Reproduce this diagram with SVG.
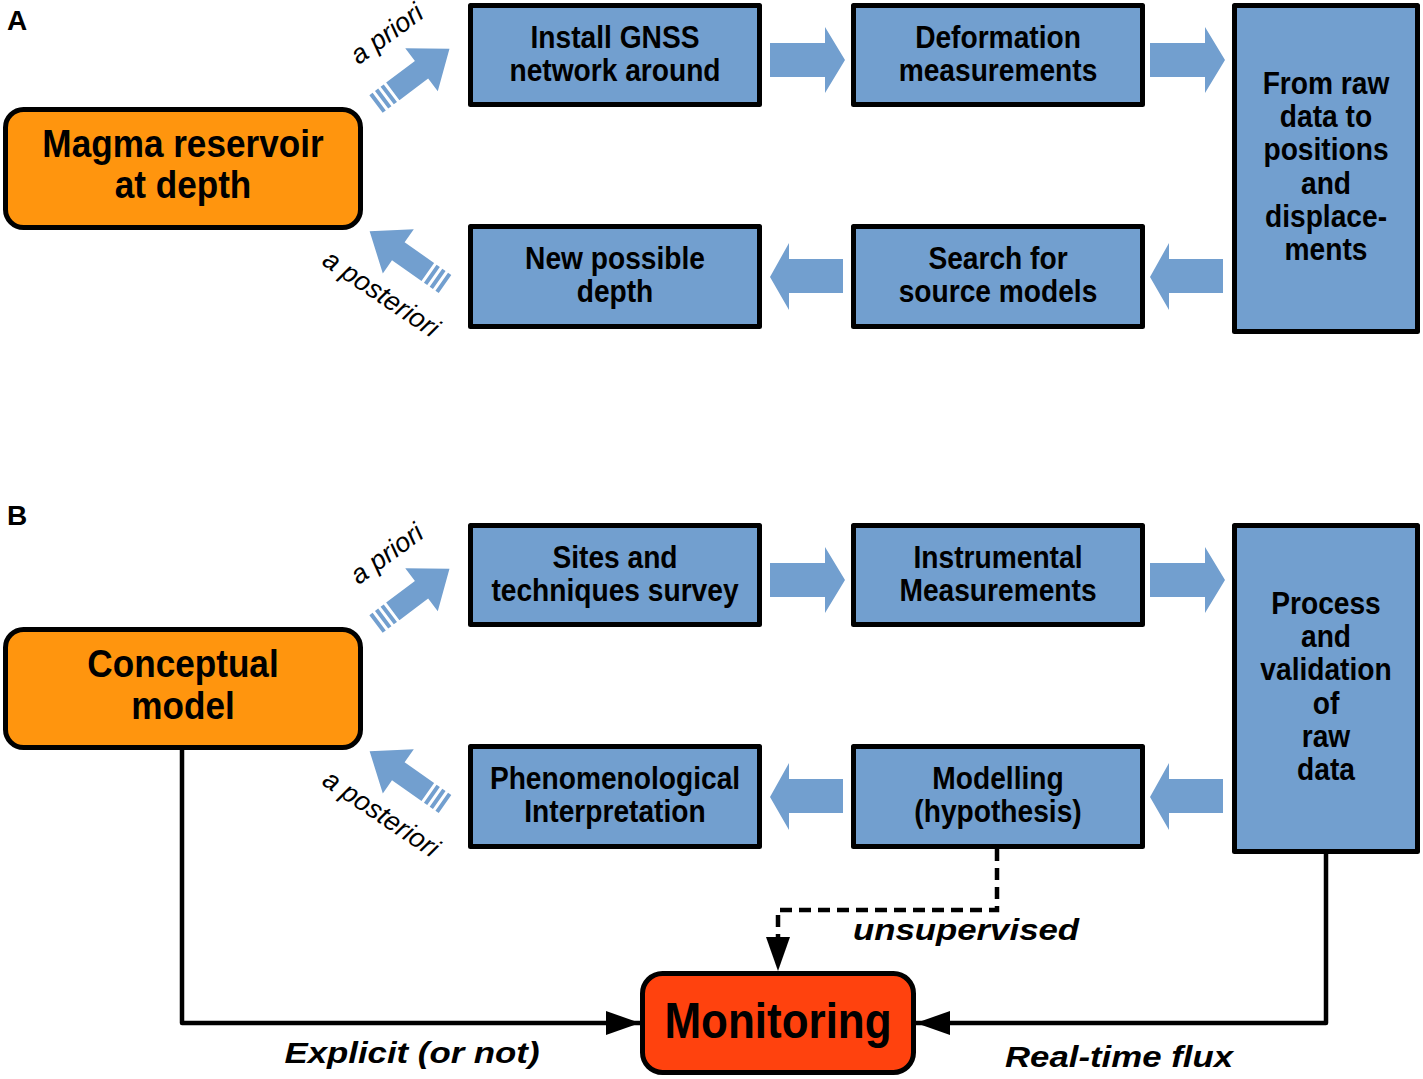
<svg xmlns="http://www.w3.org/2000/svg" xmlns:xlink="http://www.w3.org/1999/xlink" width="1423" height="1079" viewBox="0 0 1423 1079">
<style>
  .bg{fill:#ffffff}
  .box{fill:#729fcf;stroke:#000;stroke-width:5;stroke-linejoin:round}
  .obox{fill:#ff950e;stroke:#000;stroke-width:5}
  .mbox{fill:#ff420e;stroke:#000;stroke-width:5}
  .barrow{fill:#729fcf}
  .t{font-family:"Liberation Sans",Arial,sans-serif;font-weight:bold;fill:#000;text-anchor:middle}
  .bx{font-size:32px}
  .ox{font-size:38px}
  .mx{font-size:50px}
  .lbl{font-family:"Liberation Sans",Arial,sans-serif;font-weight:bold;font-style:italic;font-size:30px;fill:#000;text-anchor:middle}
  .ap{font-family:"Liberation Sans",Arial,sans-serif;font-style:italic;font-size:27px;fill:#000;text-anchor:middle}
  .pl{font-family:"Liberation Sans",Arial,sans-serif;font-weight:bold;font-size:28px;fill:#000}
  .conn{fill:none;stroke:#000;stroke-width:4.5;stroke-linejoin:round}
  .dash{fill:none;stroke:#000;stroke-width:4.5;stroke-dasharray:12 7}
</style>
<defs>
  <path id="diag" d="M0,-11 h4 v22 h-4 z M7,-11 h4 v22 h-4 z M14,-11 h4 v22 h-4 z M21,-11 H57 V-27 L92,0 L57,27 V11 H21 z"/>
  <path id="rarr" d="M0,-17 H55 V-33 L75,0 L55,33 V17 H0 z"/>
  <path id="larr" d="M0,0 L19,-34 V-18 H73 V16 H19 V33 z"/>
  <marker id="ah" markerWidth="34" markerHeight="24" refX="34" refY="12" orient="auto" markerUnits="userSpaceOnUse">
    <path d="M0,0 L34,12 L0,24 z" fill="#000"/>
  </marker>
</defs>
<rect class="bg" x="0" y="0" width="1423" height="1079"/>

<text class="pl" x="7" y="30">A</text>
<text class="pl" x="7" y="525">B</text>

<!-- Panel A -->
<g id="a-magma">
  <rect class="obox" x="5.5" y="109.5" width="355" height="118" rx="18"/>
  <text class="t ox" transform="translate(183 0) scale(0.925 1)" x="0" y="157">Magma reservoir</text>
  <text class="t ox" transform="translate(183 0) scale(0.925 1)" x="0" y="198">at depth</text>
</g>
<g id="a-install">
  <rect class="box" x="470.5" y="5.5" width="289" height="99"/>
  <text class="t bx" transform="translate(615 0) scale(0.88 1)"><tspan x="0" y="48">Install GNSS</tspan><tspan x="0" y="81">network around</tspan></text>
</g>
<g id="a-deform">
  <rect class="box" x="853.5" y="5.5" width="289" height="99"/>
  <text class="t bx" transform="translate(998 0) scale(0.88 1)"><tspan x="0" y="48">Deformation</tspan><tspan x="0" y="81">measurements</tspan></text>
</g>
<g id="a-raw">
  <rect class="box" x="1234.5" y="5.5" width="183" height="326"/>
  <text class="t bx" transform="translate(1326 0) scale(0.88 1)"><tspan x="0" y="94">From raw</tspan><tspan x="0" y="127">data to</tspan><tspan x="0" y="160">positions</tspan><tspan x="0" y="194">and</tspan><tspan x="0" y="227">displace-</tspan><tspan x="0" y="260">ments</tspan></text>
</g>
<g id="a-search">
  <rect class="box" x="853.5" y="226.5" width="289" height="100"/>
  <text class="t bx" transform="translate(998 0) scale(0.88 1)"><tspan x="0" y="269">Search for</tspan><tspan x="0" y="302">source models</tspan></text>
</g>
<g id="a-newdepth">
  <rect class="box" x="470.5" y="226.5" width="289" height="100"/>
  <text class="t bx" transform="translate(615 0) scale(0.88 1)"><tspan x="0" y="269">New possible</tspan><tspan x="0" y="302">depth</tspan></text>
</g>

<!-- Panel B -->
<g id="b-concept">
  <rect class="obox" x="5.5" y="629.5" width="355" height="118" rx="18"/>
  <text class="t ox" transform="translate(183 0) scale(0.925 1)" x="0" y="677">Conceptual</text>
  <text class="t ox" transform="translate(183 0) scale(0.925 1)" x="0" y="719">model</text>
</g>
<g id="b-sites">
  <rect class="box" x="470.5" y="525.5" width="289" height="99"/>
  <text class="t bx" transform="translate(615 0) scale(0.88 1)"><tspan x="0" y="568">Sites and</tspan><tspan x="0" y="601">techniques survey</tspan></text>
</g>
<g id="b-instr">
  <rect class="box" x="853.5" y="525.5" width="289" height="99"/>
  <text class="t bx" transform="translate(998 0) scale(0.88 1)"><tspan x="0" y="568">Instrumental</tspan><tspan x="0" y="601">Measurements</tspan></text>
</g>
<g id="b-process">
  <rect class="box" x="1234.5" y="525.5" width="183" height="326"/>
  <text class="t bx" transform="translate(1326 0) scale(0.88 1)"><tspan x="0" y="614">Process</tspan><tspan x="0" y="647">and</tspan><tspan x="0" y="680">validation</tspan><tspan x="0" y="714">of</tspan><tspan x="0" y="747">raw</tspan><tspan x="0" y="780">data</tspan></text>
</g>
<g id="b-modelling">
  <rect class="box" x="853.5" y="746.5" width="289" height="100"/>
  <text class="t bx" transform="translate(998 0) scale(0.88 1)"><tspan x="0" y="789">Modelling</tspan><tspan x="0" y="822">(hypothesis)</tspan></text>
</g>
<g id="b-phenom">
  <rect class="box" x="470.5" y="746.5" width="289" height="100"/>
  <text class="t bx" transform="translate(615 0) scale(0.88 1)"><tspan x="0" y="789">Phenomenological</tspan><tspan x="0" y="822">Interpretation</tspan></text>
</g>
<g id="b-monitoring">
  <rect class="mbox" x="642.5" y="973.5" width="271" height="99" rx="20"/>
  <text class="t mx" transform="translate(778 0) scale(0.88 1)" x="0" y="1038">Monitoring</text>
</g>

<!-- Connectors -->
<g id="connectors">
  <use xlink:href="#rarr" class="barrow" transform="translate(770 60)"/>
  <use xlink:href="#rarr" class="barrow" transform="translate(1150 60)"/>
  <use xlink:href="#larr" class="barrow" transform="translate(1150 277)"/>
  <use xlink:href="#larr" class="barrow" transform="translate(770 277)"/>
  <use xlink:href="#diag" class="barrow" transform="translate(376 104) rotate(-37)"/>
  <use xlink:href="#diag" class="barrow" transform="translate(445 284) rotate(215)"/>

  <use xlink:href="#rarr" class="barrow" transform="translate(770 580)"/>
  <use xlink:href="#rarr" class="barrow" transform="translate(1150 580)"/>
  <use xlink:href="#larr" class="barrow" transform="translate(1150 797)"/>
  <use xlink:href="#larr" class="barrow" transform="translate(770 797)"/>
  <use xlink:href="#diag" class="barrow" transform="translate(376 624) rotate(-37)"/>
  <use xlink:href="#diag" class="barrow" transform="translate(445 804) rotate(215)"/>

  <path class="conn" d="M182,747 V1023 H640" marker-end="url(#ah)"/>
  <path class="conn" d="M1326,853 V1023 H916" marker-end="url(#ah)"/>
  <path class="dash" d="M997,849 V910 H778 V940"/>
  <path d="M766,937 L790,937 L778,971 z" fill="#000"/>

  <text class="ap" transform="translate(392 41) rotate(-36)">a priori</text>
  <text class="ap" transform="translate(376 301) rotate(34)">a posteriori</text>
  <text class="ap" transform="translate(392 561) rotate(-36)">a priori</text>
  <text class="ap" transform="translate(376 821) rotate(34)">a posteriori</text>

  <text class="lbl" transform="translate(966 0) scale(1.16 1)" x="0" y="940">unsupervised</text>
  <text class="lbl" transform="translate(412 0) scale(1.16 1)" x="0" y="1063">Explicit (or not)</text>
  <text class="lbl" transform="translate(1119 0) scale(1.16 1)" x="0" y="1067">Real-time flux</text>
</g>
</svg>
